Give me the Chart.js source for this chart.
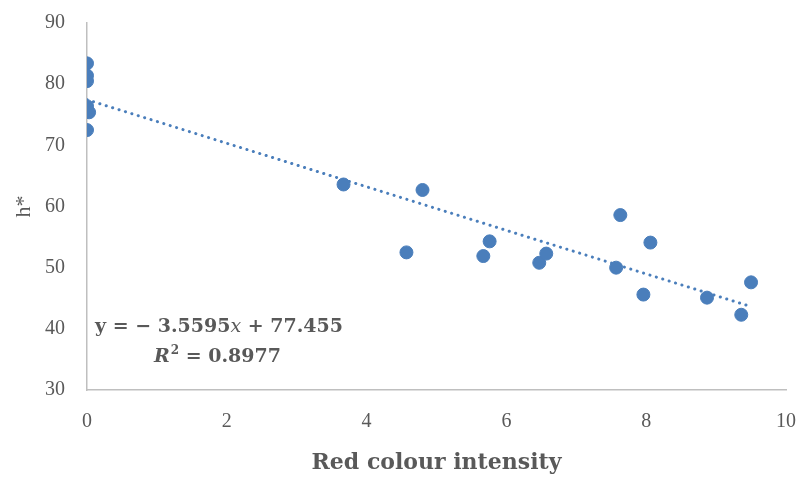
<!DOCTYPE html>
<html>
<head>
<meta charset="utf-8">
<script src="https://cdn.jsdelivr.net/npm/chart.js@4"></script>
<style>
  html, body { margin: 0; padding: 0; background: #fff; }
  #wrap { width: 798px; height: 480px; position: relative; }
</style>
</head>
<body>
<div id="wrap"><canvas id="ScatterChart" width="798" height="480"></canvas></div>
<script>
// red colour intensity vs h*
const xValues = [0, 0, 0, 0, 0.03, 0, 3.67, 4.57, 4.8, 5.67, 5.76, 6.47, 6.57, 7.57, 7.63, 7.96, 8.06, 8.87, 9.36, 9.5];
const yValues = [83.4, 81.4, 80.5, 76.4, 75.4, 72.5, 63.6, 52.5, 62.7, 51.9, 54.3, 50.8, 52.3, 50.0, 58.6, 45.6, 54.1, 45.1, 42.3, 47.6];

const xTicks = [0, 2, 4, 6, 8, 10];
const yTicks = [30, 40, 50, 60, 70, 80, 90];

// trendline as printed on the chart
const slope = -3.5595;
const intercept = 77.455;
const rSquared = 0.8977;

const blue = '#4a7ebb';
const grey = '#595959';
const serif = "'Liberation Serif', serif";
const wideSerif = "'DejaVu Serif', serif";

const points = xValues.map(function (x, i) { return { x: x, y: yValues[i] }; });
const xMax = Math.max.apply(null, xValues);
const trend = [
  { x: 0, y: intercept },
  { x: xMax, y: intercept + slope * xMax }
];

// equation label drawn on the canvas
const equationLabel = {
  id: 'equationLabel',
  afterDraw: function (chart) {
    const ctx = chart.ctx;
    ctx.save();
    ctx.fillStyle = grey;
    ctx.textBaseline = 'alphabetic';
    ctx.textAlign = 'left';
    const bold = 'bold 19px ' + wideSerif;
    const italic = 'italic 19px ' + wideSerif;
    const parts = [
      [bold, 'y = \u2212 ' + Math.abs(slope).toFixed(4)],
      [italic, 'x'],
      [bold, ' + ' + intercept.toFixed(3)]
    ];
    let x = 95;
    parts.forEach(function (p) {
      ctx.font = p[0];
      ctx.fillText(p[1], x, 332);
      x += ctx.measureText(p[1]).width;
    });
    // second line: R² = ...
    x = 154;
    ctx.font = 'bold italic 19px ' + wideSerif;
    ctx.fillText('R', x, 362);
    x += ctx.measureText('R').width + 1;
    ctx.font = 'bold 12px ' + wideSerif;
    ctx.fillText('2', x, 354);
    x += ctx.measureText('2').width;
    ctx.font = bold;
    ctx.fillText(' = ' + rSquared.toFixed(4), x, 362);
    ctx.restore();
  }
};

const config = {
  type: 'scatter',
  data: {
    datasets: [{
      label: 'h*',
      data: points,
      backgroundColor: blue,
      borderColor: blue,
      pointRadius: 6.5,
      pointHoverRadius: 6.5,
      order: 0
    }, {
      label: 'Linear',
      type: 'line',
      data: trend,
      borderColor: blue,
      borderWidth: 3,
      borderDash: [0.1, 6.6],
      borderCapStyle: 'round',
      pointRadius: 0,
      fill: false,
      order: 1
    }]
  },
  options: {
    responsive: false,
    animation: false,
    layout: { padding: { left: 7, right: 12, top: 23, bottom: 0 } },
    plugins: {
      legend: { display: false },
      tooltip: { enabled: false }
    },
    scales: {
      x: {
        type: 'linear',
        min: 0,
        max: 10,
        afterBuildTicks: function (scale) {
          scale.ticks = xTicks.map(function (v) { return { value: v }; });
        },
        afterFit: function (scale) {
          scale.height = 90;
          scale.paddingLeft = 0;
          scale.paddingRight = 0;
        },
        grid: { display: false },
        border: { display: true, color: '#bfbfbf', width: 1.5 },
        ticks: { color: grey, padding: 12, font: { family: serif, size: 20 } },
        title: {
          display: true,
          text: 'Red colour intensity',
          color: grey,
          padding: { top: 2 },
          font: { family: wideSerif, size: 22, weight: 'bold' }
        }
      },
      y: {
        type: 'linear',
        min: 30,
        max: 90,
        afterBuildTicks: function (scale) {
          scale.ticks = yTicks.map(function (v) { return { value: v }; });
        },
        afterFit: function (scale) {
          scale.width = 80;
          scale.paddingTop = 0;
          scale.paddingBottom = 0;
        },
        grid: { display: false },
        border: { display: true, color: '#bfbfbf', width: 1.5 },
        ticks: { color: grey, padding: 14, font: { family: serif, size: 20 } },
        title: {
          display: true,
          text: 'h*',
          color: grey,
          padding: { bottom: 6 },
          font: { family: serif, size: 22 }
        }
      }
    }
  },
  plugins: [equationLabel]
};

const myScatterChart = new Chart(
  document.getElementById('ScatterChart').getContext('2d'),
  config
);
</script>
</body>
</html>
